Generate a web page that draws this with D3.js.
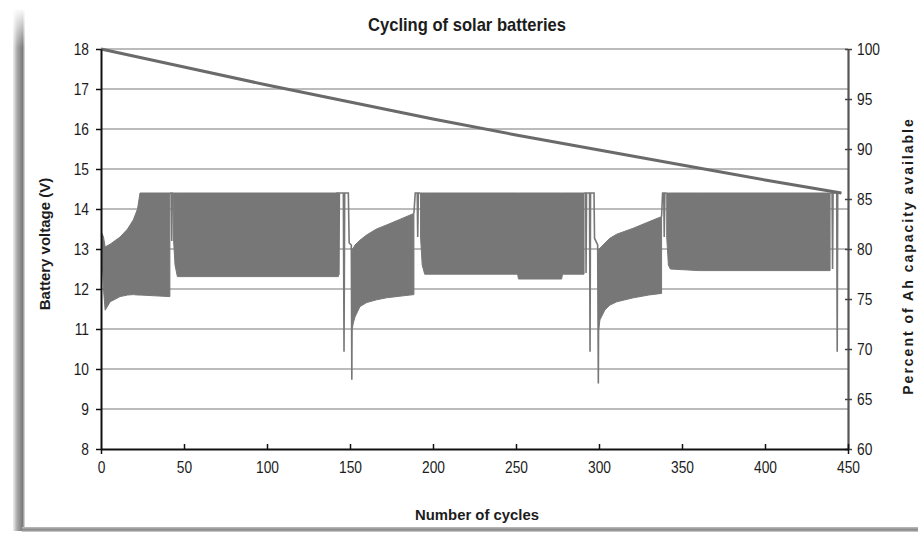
<!DOCTYPE html>
<html>
<head>
<meta charset="utf-8">
<script src="https://cdn.jsdelivr.net/npm/d3@7"></script>
<style>
body { margin: 0; background: #fff; }
text { font-family: "Liberation Sans Narrow", "Arial Narrow", "Liberation Sans", sans-serif; fill: #1c1c1c; }
</style>
</head>
<body>
<div id="chart"></div>
<script>
// axis ticks
const cycleTicks = [0, 50, 100, 150, 200, 250, 300, 350, 400, 450];
const voltTicks = [8, 9, 10, 11, 12, 13, 14, 15, 16, 17, 18];
const pctTicks = [60, 65, 70, 75, 80, 85, 90, 95, 100];

// capacity line (right axis)
const capCycle = [0, 50, 100, 150, 200, 250, 300, 350, 400, 446];
const capPct = [100, 98.2, 96.4, 94.7, 93.0, 91.4, 89.9, 88.4, 86.9, 85.6];

// dense voltage cycling, read as upper / lower envelopes per block
const block1Cycle = [0.5, 1.5, 2.5, 5.5, 11.5, 16, 19.5, 22, 23.5, 41.5];
const block1High = [13.4, 13.3, 13.05, 13.12, 13.3, 13.5, 13.73, 14.0, 14.4, 14.4];
const block1Low = [12.9, 12.0, 11.47, 11.68, 11.81, 11.85, 11.86, 11.85, 11.85, 11.81];

const block2Cycle = [43.6, 44.6, 46, 143];
const block2High = [14.4, 14.4, 14.4, 14.4];
const block2Low = [13.3, 12.6, 12.31, 12.31];

const block3Cycle = [151.3, 152, 153, 156, 160, 166, 172, 180, 188.5];
const block3High = [13.0, 13.02, 13.1, 13.22, 13.35, 13.5, 13.6, 13.74, 13.89];
const block3Low = [11.0, 11.15, 11.3, 11.56, 11.66, 11.73, 11.78, 11.82, 11.86];

const block4Cycle = [192.5, 193.5, 195, 251, 251.5, 277.5, 278, 291];
const block4High = [14.4, 14.4, 14.4, 14.4, 14.4, 14.4, 14.4, 14.4];
const block4Low = [13.3, 12.6, 12.37, 12.37, 12.25, 12.25, 12.37, 12.37];

const block5Cycle = [299.8, 300.6, 303.6, 306.6, 310.7, 320.7, 330, 337.7];
const block5High = [13.0, 13.02, 13.15, 13.27, 13.37, 13.52, 13.68, 13.81];
const block5Low = [11.0, 11.23, 11.48, 11.6, 11.68, 11.78, 11.85, 11.89];

const block6Cycle = [340.8, 341.8, 343, 360, 439.2];
const block6High = [14.4, 14.4, 14.4, 14.4, 14.4];
const block6Low = [13.3, 12.6, 12.5, 12.46, 12.46];

// single cycles between the blocks (NaN breaks the line)
const linkCycle = [41.5, 42.3, 42.6, 43.0, 43.6, NaN,
	141.8, 143.0, 143.3, 143.6, 146.0, 146.4, 146.8, 149.0, 149.5, 150.8, 151.1, 151.4, NaN,
	188.5, 189.3, 190.5, 190.8, 191.2, 192.5, NaN,
	291, 292.0, 292.2, 292.5, 294.3, 294.6, 294.9, 297.0, 297.3, 299.2, 299.6, 299.9, NaN,
	337.7, 338.3, 339.0, 339.3, 339.7, 340.8, NaN,
	439.2, 440.4, 440.7, 441.0, 443.2, 443.5, 443.8, 446];
const linkVolt = [14.4, 14.4, 13.2, 14.4, 14.4, NaN,
	14.4, 14.4, 12.35, 14.4, 14.4, 10.43, 14.4, 14.4, 13.15, 13.1, 9.73, 12.9, NaN,
	13.89, 14.4, 14.4, 13.3, 14.4, 14.4, NaN,
	14.4, 14.4, 12.4, 14.4, 14.4, 10.43, 14.4, 14.4, 13.27, 13.1, 9.64, 12.9, NaN,
	13.81, 14.4, 14.4, 13.3, 14.4, 14.4, NaN,
	14.4, 14.4, 12.5, 14.4, 14.4, 10.43, 14.4, 14.4];

const blocks = [
	[block1Cycle, block1High, block1Low],
	[block2Cycle, block2High, block2Low],
	[block3Cycle, block3High, block3Low],
	[block4Cycle, block4High, block4Low],
	[block5Cycle, block5High, block5Low],
	[block6Cycle, block6High, block6Low]
];

const width = 918, height = 533;
const plotLeft = 101, plotRight = 848, plotTop = 49, plotBottom = 449;
const seriesColor = '#777777';

var svg = d3.select('#chart')
	.append('svg')
	.attr('width', width)
	.attr('height', height);

var xScale = d3.scaleLinear().domain([0, 450]).range([plotLeft, plotRight]);
var yVolt = d3.scaleLinear().domain([8, 18]).range([plotBottom, plotTop]);
var yPct = d3.scaleLinear().domain([60, 100]).range([plotBottom, plotTop]);

// squeeze text to look like a narrow face
function narrow(sel, k) {
	sel.each(function() {
		var w = this.getComputedTextLength();
		d3.select(this)
			.attr('textLength', w * k)
			.attr('lengthAdjust', 'spacingAndGlyphs');
	});
}

// paper frame shadow
var defs = svg.append('defs');
var gl = defs.append('linearGradient').attr('id', 'leftShade');
gl.append('stop').attr('offset', '0').attr('stop-color', '#f0f0f0');
gl.append('stop').attr('offset', '0.35').attr('stop-color', '#a8a8a8');
gl.append('stop').attr('offset', '0.8').attr('stop-color', '#7a7a7a');
gl.append('stop').attr('offset', '1').attr('stop-color', '#e6e6e6');
var gb = defs.append('linearGradient').attr('id', 'bottomShade')
	.attr('x1', 0).attr('y1', 0).attr('x2', 0).attr('y2', 1);
gb.append('stop').attr('offset', '0').attr('stop-color', '#bdbdbd');
gb.append('stop').attr('offset', '0.6').attr('stop-color', '#858585');
gb.append('stop').attr('offset', '1').attr('stop-color', '#d8d8d8');
var gv = defs.append('linearGradient').attr('id', 'topFade')
	.attr('x1', 0).attr('y1', 0).attr('x2', 0).attr('y2', 1);
gv.append('stop').attr('offset', '0').attr('stop-color', '#fff').attr('stop-opacity', 1);
gv.append('stop').attr('offset', '1').attr('stop-color', '#fff').attr('stop-opacity', 0);

svg.append('rect')
	.attr('x', 13).attr('y', 10).attr('width', 12).attr('height', 521)
	.attr('fill', 'url(#leftShade)');
svg.append('rect')
	.attr('x', 10).attr('y', 8).attr('width', 18).attr('height', 40)
	.attr('fill', 'url(#topFade)');
svg.append('rect')
	.attr('x', 22).attr('y', 527).attr('width', width - 22).attr('height', 5)
	.attr('fill', 'url(#bottomShade)');

// gridlines
svg.append('g')
	.selectAll('line')
	.data(voltTicks.slice(1))
	.enter()
	.append('line')
	.attr('x1', plotLeft)
	.attr('x2', plotRight)
	.attr('y1', d => yVolt(d))
	.attr('y2', d => yVolt(d))
	.attr('stroke', '#a4a4a4')
	.attr('stroke-width', 1.6);

// voltage blocks
var area = d3.area()
	.x(d => xScale(d[0]))
	.y0(d => yVolt(d[2]))
	.y1(d => yVolt(d[1]));

svg.append('g')
	.selectAll('path')
	.data(blocks.map(b => b[0].map((c, i) => [c, b[1][i], b[2][i]])))
	.enter()
	.append('path')
	.attr('d', area)
	.attr('fill', seriesColor)
	.attr('stroke', seriesColor)
	.attr('stroke-width', 1);

var linkLine = d3.line()
	.defined(d => !isNaN(d[0]))
	.x(d => xScale(d[0]))
	.y(d => yVolt(d[1]));

svg.append('path')
	.datum(linkCycle.map((c, i) => [c, linkVolt[i]]))
	.attr('d', linkLine)
	.attr('fill', 'none')
	.attr('stroke', seriesColor)
	.attr('stroke-width', 1.6);

// capacity line
var capLine = d3.line()
	.x(d => xScale(d[0]))
	.y(d => yPct(d[1]));

svg.append('path')
	.datum(capCycle.map((c, i) => [c, capPct[i]]))
	.attr('d', capLine)
	.attr('fill', 'none')
	.attr('stroke', '#6a6a6a')
	.attr('stroke-width', 3);

// axes
var leftAxis = svg.append('g')
	.attr('transform', `translate(${plotLeft},0)`)
	.call(d3.axisLeft(yVolt).tickValues(voltTicks).tickSize(5).tickPadding(7).tickSizeOuter(0));
leftAxis.select('.domain').attr('stroke', '#111').attr('stroke-width', 2);
leftAxis.selectAll('.tick line').attr('stroke', '#111').attr('stroke-width', 1.5);

var rightAxis = svg.append('g')
	.attr('transform', `translate(${plotRight},0)`)
	.call(d3.axisRight(yPct).tickValues(pctTicks).tickSize(4).tickPadding(5).tickSizeOuter(0));
rightAxis.select('.domain').attr('stroke', '#555').attr('stroke-width', 2.2);
rightAxis.selectAll('.tick line').attr('x1', -3).attr('stroke', '#444').attr('stroke-width', 1.5);

var bottomAxis = svg.append('g')
	.attr('transform', `translate(0,${plotBottom})`)
	.call(d3.axisBottom(xScale).tickValues(cycleTicks).tickSize(0).tickPadding(13).tickSizeOuter(0));
bottomAxis.select('.domain').attr('stroke', '#111').attr('stroke-width', 2);
bottomAxis.selectAll('.tick line')
	.attr('y1', d => d == 0 ? 0 : -5)
	.attr('y2', d => (d == 0 || d == 450) ? 5 : 0)
	.attr('stroke', '#111').attr('stroke-width', 1.5);

svg.selectAll('.tick text')
	.style('font-size', '16px')
	.attr('fill', '#1c1c1c')
	.call(narrow, 0.86);

// titles
svg.append('text')
	.attr('x', 467)
	.attr('y', 31)
	.attr('text-anchor', 'middle')
	.style('font-size', '19px')
	.style('font-weight', 'bold')
	.attr('textLength', 198)
	.attr('lengthAdjust', 'spacingAndGlyphs')
	.text('Cycling of solar batteries');

svg.append('text')
	.attr('x', 477)
	.attr('y', 520)
	.attr('text-anchor', 'middle')
	.style('font-size', '15px')
	.style('font-weight', 'bold')
	.attr('textLength', 124)
	.attr('lengthAdjust', 'spacingAndGlyphs')
	.text('Number of cycles');

svg.append('text')
	.attr('transform', 'translate(50,244) rotate(-90)')
	.attr('text-anchor', 'middle')
	.style('font-family', '"Liberation Sans", Arial, sans-serif')
	.style('font-size', '15px')
	.style('font-weight', 'bold')
	.text('Battery voltage (V)');

svg.append('text')
	.attr('transform', 'translate(913,256) rotate(-90)')
	.attr('text-anchor', 'middle')
	.style('font-family', '"Liberation Sans", Arial, sans-serif')
	.style('font-size', '14px')
	.style('font-weight', 'bold')
	.style('letter-spacing', '2px')
	.text('Percent of Ah capacity available');
</script>
</body>
</html>
